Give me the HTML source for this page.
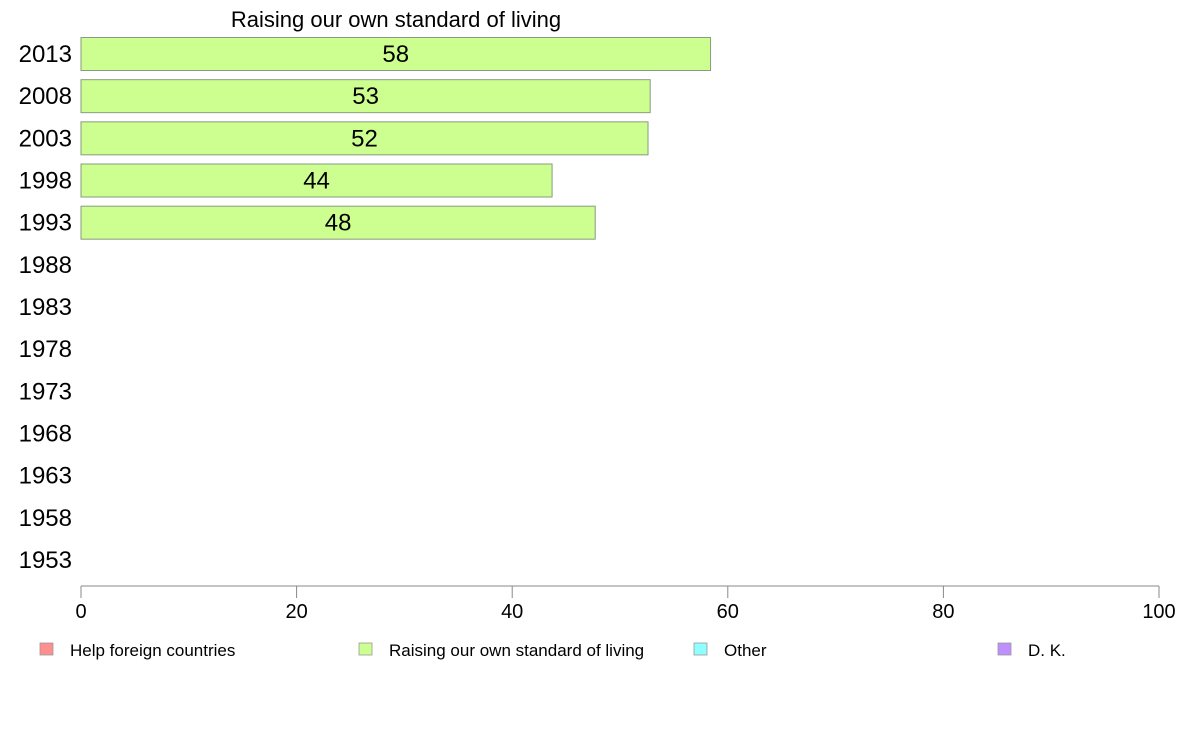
<!DOCTYPE html>
<html><head><meta charset="utf-8"><style>
body{margin:0;background:#fff;width:1188px;height:736px;overflow:hidden;font-family:"Liberation Sans",sans-serif}
</style></head><body>
<svg id="chart" width="1188" height="736" xmlns="http://www.w3.org/2000/svg" font-family="Liberation Sans, sans-serif">
<text x="396" y="27" font-size="22" text-anchor="middle">Raising our own standard of living</text>
<g id="bars"></g><g id="ylabels"></g>
<line x1="81" y1="586" x2="1159" y2="586" stroke="#888" stroke-width="1"/>
<g id="xaxis"></g>
<g id="legend"></g>
</svg>
<script>
const years=["2013","2008","2003","1998","1993","1988","1983","1978","1973","1968","1963","1958","1953"];
const values=[58.4,52.8,52.6,43.7,47.7,null,null,null,null,null,null,null,null];
const labels=["58","53","52","44","48"];
const xTicks=[0,20,40,60,80,100];
const legendNames=["Help foreign countries","Raising our own standard of living","Other","D. K."];
const legendColors=["#ff8f8f","#ccff8f","#8fffff","#c08fff"];
const ns="http://www.w3.org/2000/svg";
const x=v=>81+v*(1159-81)/100;
const y=i=>54+i*42.17;
function mk(t,a,p){const e=document.createElementNS(ns,t);for(const k in a)e.setAttribute(k,a[k]);p.appendChild(e);return e;}
const bars=document.getElementById('bars'),yl=document.getElementById('ylabels'),xa=document.getElementById('xaxis'),lg=document.getElementById('legend');
years.forEach((yr,i)=>{
  const t=mk('text',{x:72,y:y(i)+8,'font-size':24,'text-anchor':'end'},yl);t.textContent=yr;
  
  
  if(values[i]!=null){
    const r=mk('rect',{x:x(0),y:y(i)-16.5,width:x(values[i])-x(0),height:33,fill:'#ccff8f',stroke:'#8a9a80','stroke-width':1},bars);
    
    
    const l=mk('text',{x:(x(0)+x(values[i]))/2,y:y(i)+8,'font-size':24,'text-anchor':'middle'},bars);l.textContent=labels[i];
    
    
  }
});
xTicks.forEach(v=>{
  const tk=mk('line',{x1:x(v),y1:586,x2:x(v),y2:598,stroke:'#888'},xa);
  
  
  const t=mk('text',{x:x(v),y:618,'font-size':20,'text-anchor':'middle'},xa);t.textContent=v;
  
  
});
const lx=[40,359,694,998];
legendNames.forEach((n,i)=>{
  const r=mk('rect',{x:lx[i],y:643,width:13,height:12,fill:legendColors[i],stroke:'#999','stroke-width':0.8},lg);
  
  
  const t=mk('text',{x:lx[i]+30,y:656,'font-size':17},lg);t.textContent=n;
  
  
});
</script>
</body></html>
